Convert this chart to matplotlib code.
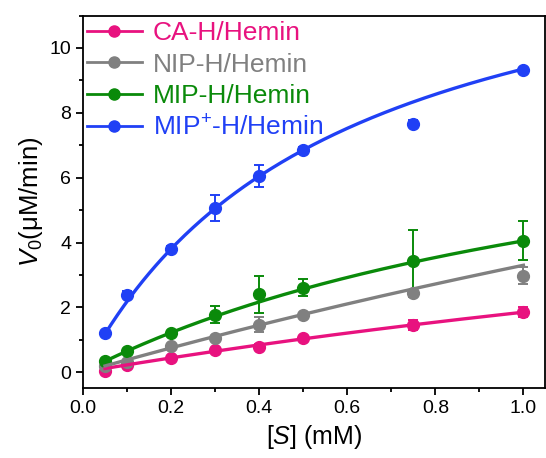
import numpy as np
import matplotlib
matplotlib.use("Agg")
import matplotlib.pyplot as plt
from matplotlib.ticker import MultipleLocator

plt.rcParams['font.family'] = ['Liberation Sans', 'DejaVu Sans']
plt.rcParams['mathtext.fontset'] = 'custom'
plt.rcParams['mathtext.rm'] = 'Liberation Sans'
plt.rcParams['mathtext.it'] = 'Liberation Sans:italic'

# substrate concentration (mM)
S = [0.05, 0.1, 0.2, 0.3, 0.4, 0.5, 0.75, 1.0]

labels = ["CA-H/Hemin", "NIP-H/Hemin", "MIP-H/Hemin", "MIP$^{+}$-H/Hemin"]
colors = ["#E8127F", "#808080", "#0A8A0A", "#2040F5"]

v_ca = [0.05, 0.22, 0.45, 0.68, 0.79, 1.04, 1.45, 1.86]
e_ca = [0.05, 0.05, 0.05, 0.08, 0.08, 0.08, 0.15, 0.15]
v_nip = [0.19, 0.32, 0.80, 1.05, 1.46, 1.77, 2.43, 2.98]
e_nip = [0.03, 0.05, 0.05, 0.05, 0.23, 0.05, 0.10, 0.25]
v_mip = [0.36, 0.66, 1.22, 1.77, 2.41, 2.61, 3.42, 4.05]
e_mip = [0.05, 0.05, 0.05, 0.26, 0.57, 0.26, 0.98, 0.60]
v_mipp = [1.21, 2.39, 3.80, 5.05, 6.04, 6.84, 7.67, 9.33]
e_mipp = [0.05, 0.10, 0.08, 0.40, 0.34, 0.10, 0.10, 0.05]

# Michaelis-Menten fit parameters (Vmax, Km)
vmax = [9.25, 22.0, 9.64, 14.73]
km = [4.0, 5.67, 1.38, 0.575]

values = [v_ca, v_nip, v_mip, v_mipp]
errors = [e_ca, e_nip, e_mip, e_mipp]

fig = plt.figure(figsize=(5.46, 4.58), dpi=100)
ax = fig.add_axes([0.152, 0.152, 0.847, 0.814])

sfit = np.linspace(S[0], S[-1], 200)
handles = []
for v, e, c, lab, vm, k in zip(values, errors, colors, labels, vmax, km):
    ax.errorbar(S, v, yerr=e, fmt='o', color=c, ms=8.5, elinewidth=1.4,
                capsize=3.4, capthick=1.4, zorder=3)
    ax.plot(sfit, vm * sfit / (k + sfit), color=c, lw=2.4, zorder=4)
    h, = ax.plot([], [], color=c, lw=2.0, marker='o', ms=8, label=lab)
    handles.append(h)

ax.set_xlim(0, 1.05)
ax.set_ylim(-0.5, 11)
ax.xaxis.set_major_locator(MultipleLocator(0.2))
ax.xaxis.set_minor_locator(MultipleLocator(0.1))
ax.yaxis.set_major_locator(MultipleLocator(2))
ax.yaxis.set_minor_locator(MultipleLocator(1))
ax.tick_params(which='both', direction='out', top=False, right=False,
               width=1.3, labelsize=14)
ax.tick_params(which='major', length=5)
ax.tick_params(which='minor', length=3)
for sp in ax.spines.values():
    sp.set_linewidth(1.3)

ax.set_xlabel(r"[$\mathit{S}$] (mM)", fontsize=18, labelpad=4)
ax.set_ylabel(r"$\mathit{V}_{0}$($\mathrm{\mu}$M/min)", fontsize=18.5, labelpad=3)

leg = ax.legend(handles=handles, loc='upper left', bbox_to_anchor=(0.008, 0.985),
                frameon=False, fontsize=19, handlelength=2.1, handletextpad=0.4,
                labelspacing=0.28, borderpad=0, borderaxespad=0)
for t, c in zip(leg.get_texts(), colors):
    t.set_color(c)

fig.savefig("out.png", dpi=100)
